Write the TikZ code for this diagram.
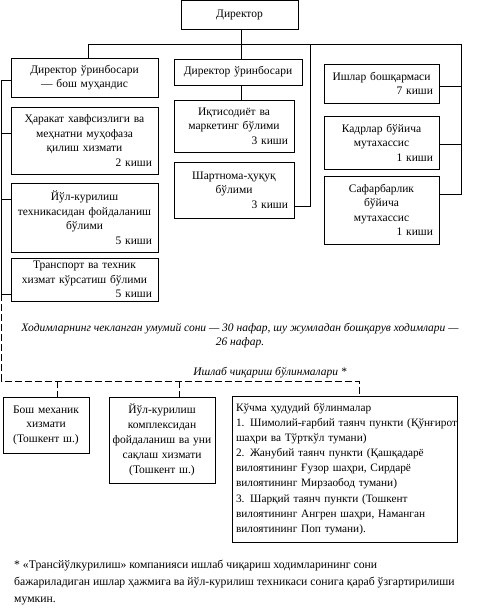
\documentclass[tikz,border=0pt]{standalone}
\usepackage{fontspec}
\setmainfont{Liberation Serif}
\usetikzlibrary{calc}
\begin{document}
\begin{tikzpicture}[x=1pt,y=-1pt,
  box/.style={draw, line width=0.8pt, inner xsep=6pt, inner ysep=2pt, align=center,
    font=\fontsize{11.5}{14.5}\selectfont},
  ln/.style={line width=0.8pt},
  dsh/.style={line width=0.8pt, dash pattern=on 7pt off 3pt},
  lbl/.style={inner sep=0pt, align=center, font=\fontsize{11.5}{14}\selectfont\itshape}]
\useasboundingbox (0,0) rectangle (481,611);
% top
\node[box, minimum width=117pt, minimum height=29pt] (dir) at (239.5,14.5) {Директор};
\node[box, text width=135pt, minimum height=39pt] (dep1) at (84.5,77.5) {Директор ўринбосари\\— бош муҳандис};
\node[box, text width=116pt, minimum height=26pt] (dep2) at (238,72) {Директор ўринбосари};
\node[box, text width=103pt, minimum height=39pt] (ishlar) at (381.5,83.5) {Ишлар бошқармаси\\\hfill 7 киши};
% left column
\node[box, text width=135pt, minimum height=67pt] (harakat) at (84.5,140.5) {Ҳаракат хавфсизлиги ва\\меҳнатни муҳофаза\\қилиш хизмати\\\hfill 2 киши};
\node[box, text width=135pt, minimum height=69pt] (yul) at (84.5,217.5) {Йўл-курилиш\\техникасидан фойдаланиш\\бўлими\\\hfill 5 киши};
\node[box, text width=135pt, minimum height=43pt] (trans) at (84.5,279.5) {Транспорт ва техник\\хизмат кўрсатиш бўлими\\\hfill 5 киши};
% middle column
\node[box, text width=108pt, minimum height=52pt] (iqt) at (234,126) {Иқтисодиёт ва\\маркетинг бўлими\\\hfill 3 киши};
\node[box, text width=108pt, minimum height=56pt] (shart) at (234,190) {Шартнома-ҳуқуқ\\бўлими\\\hfill 3 киши};
% right column
\node[box, text width=103pt, minimum height=53pt] (kadr) at (381.5,142.5) {Кадрлар бўйича\\мутахассис\\\hfill 1 киши};
\node[box, text width=103pt, minimum height=68pt] (safar) at (381.5,210) {Сафарбарлик\\бўйича\\мутахассис\\\hfill 1 киши};
% texts
\node[lbl] (note) at (240,336) {Ходимларнинг чекланган умумий сони — 30 нафар, шу жумладан бошқарув ходимлари —\\26 нафар.};
\node[lbl] (prod) at (270,373) {Ишлаб чиқариш бўлинмалари *};
% bottom
\node[box, inner xsep=4pt, text width=78pt, minimum height=56pt] (mex) at (46,425) {Бош механик\\хизмати\\(Тошкент ш.)};
\node[box, inner xsep=3pt, text width=100pt, minimum height=86pt, font=\fontsize{11.5}{15}\selectfont] (komp) at (162,440) {Йўл-курилиш\\комплексидан\\фойдаланиш ва уни\\сақлаш хизмати\\(Тошкент ш.)};
\node[box, inner xsep=4pt, text width=217pt, minimum height=146pt, align=left, font=\fontsize{11.3}{15.1}\selectfont] (koch) at (344.5,469) {Кўчма ҳудудий бўлинмалар\\\mbox{1. Шимолий-ғарбий таянч пункти (Қўнғирот}\\шаҳри ва Тўрткўл тумани)\\2. Жанубий таянч пункти (Қашқадарё\\вилоятининг Ғузор шаҳри, Сирдарё\\вилоятининг Мирзаобод тумани)\\3. Шарқий таянч пункти (Тошкент\\\mbox{вилоятининг Ангрен шаҳри, Наманган}\\вилоятининг Поп тумани).};
\node[inner sep=0pt, anchor=west, align=left, font=\fontsize{11.7}{17}\selectfont] (foot) at (14,583) {* «Трансйўлкурилиш» компанияси ишлаб чиқариш ходимларининг сони\\бажариладиган ишлар ҳажмига ва йўл-курилиш техникаси сонига қараб ўзгартирилиши\\мумкин.};
% connectors top
\coordinate (hL) at (88,44);
\coordinate (hR) at (461,44);
\coordinate (c2) at (241,44);
\coordinate (m) at (310,44);
\draw[ln] (dir.south -| c2) -- (c2);
\draw[ln] (hL) -- (hR);
\draw[ln] (hL) -- (hL |- dep1.north);
\draw[ln] (c2) -- (c2 |- dep2.north);
\draw[ln] (dep2.south -| c2) -- (c2 |- iqt.north);
\coordinate (shc) at ($(shart.south east)+(0,-12)$);
\draw[ln] (m) -- (m |- shc) -- (shc);
\coordinate (rb) at (461,194);
\draw[ln] (hR) -- (rb) -- (rb -| safar.east);
\draw[ln] (ishlar.east |- 0,86) -- (hR |- 0,86);
\draw[ln] (kadr.east |- 0,144) -- (hR |- 0,144);
% left spine
\coordinate (L) at (1.5,80);
\coordinate (Lt) at (1.5,294);
\draw[ln] (dep1.west |- L) -- (L) -- (Lt) -- (Lt -| trans.west);
\draw[ln] (harakat.west |- 0,133) -- (L |- 0,133);
\draw[ln] (yul.west |- 0,199) -- (L |- 0,199);
% dashed
\coordinate (dl) at (1.5,381);
\coordinate (dr) at (359,381);
\draw[dsh] (Lt) -- (dl) -- (dr) -- (dr |- koch.north);
\draw[dsh] (57,381) -- (mex.north -| 57,0);
\draw[dsh] (179,381) -- (komp.north -| 179,0);
\end{tikzpicture}
\end{document}
